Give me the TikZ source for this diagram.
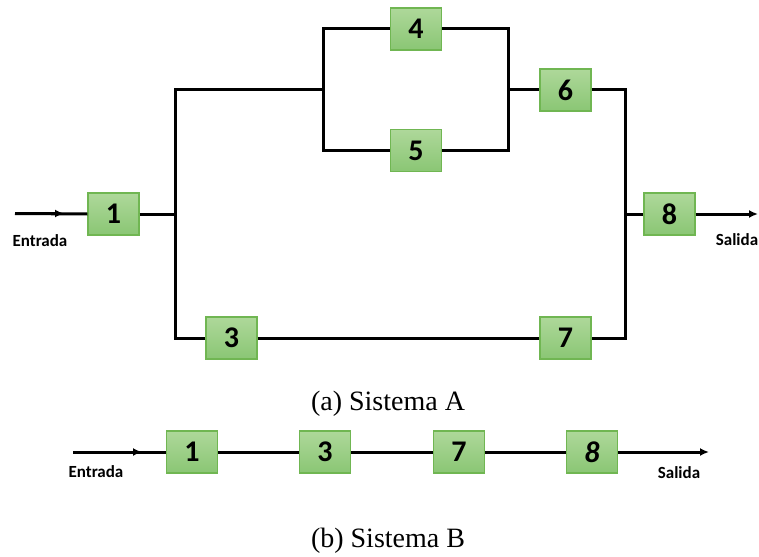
\documentclass[tikz,border=0pt]{standalone}
\usepackage{fontspec}
\setmainfont{Liberation Serif}
\newfontfamily\calfont{Carlito}
\usetikzlibrary{arrows.meta}
\definecolor{boxtop}{RGB}{174,216,154}
\definecolor{boxbot}{RGB}{138,198,116}
\definecolor{boxedge}{RGB}{112,182,82}
\begin{document}
\begin{tikzpicture}[x=1pt,y=-1pt,
  blk/.style={draw=boxedge, line width=1.3pt, top color=boxtop, bottom color=boxbot,
    minimum width=51pt, minimum height=42pt, inner sep=0pt,
    font=\calfont\bfseries\fontsize{30}{32}\selectfont},
  wire/.style={line width=3pt, line join=miter},
  tip/.style={-{Latex[length=9pt,width=8pt]}},
  io/.style={font=\calfont\bfseries\fontsize{17}{19}\selectfont},
  caption/.style={font=\fontsize{28}{33}\selectfont}]
\useasboundingbox (0,0) rectangle (759,556);

% ---- Sistema A ----
\node[blk] (a1) at (113.5,214) {1};
\node[blk] (a4) at (416,29) {4};
\node[blk] (a5) at (416,150.5) {5};
\node[blk] (a6) at (565.5,90) {6};
\node[blk] (a8) at (669.5,214) {8};
\node[blk] (a3) at (231.5,338) {3};
\node[blk] (a7) at (565.5,338) {7};

\coordinate (ain) at (15,213.5);
\coordinate (amid) at (64,213.5);
\coordinate (s1) at (175,214);
\coordinate (jtop) at (175,90);
\coordinate (p45) at (323,90);
\coordinate (q45) at (508,90);
\coordinate (r67) at (625,214);
\coordinate (aout) at (758,214);

% input line with its arrowhead half way
\draw[wire] (ain) -- (a1.west);
\draw[wire,tip] (ain) -- (amid);
\draw[wire] (a1.east) -- (s1);
\draw[wire] (a3.west) -| (jtop) -- (p45);
\draw[wire] (a4.west) -| (p45) |- (a5.west);
\draw[wire] (a4.east) -| (q45) |- (a5.east);
\draw[wire] (q45) -- (a6.west);
\draw[wire] (a6.east) -| (r67) |- (a7.east);
\draw[wire] (a3.east) -- (a7.west);
\draw[wire] (r67) -- (a8.west);
\draw[wire,tip] (a8.east) -- (aout);

\node[io] (aent) at (40,241) {Entrada};
\node[io] (asal) at (737,240) {Salida};
\node[caption] (capa) at (388,404) {(a) Sistema A};

% ---- Sistema B ----
\node[blk] (b1) at (192,452) {1};
\node[blk] (b3) at (325,452) {3};
\node[blk] (b7) at (459,452) {7};
\node[blk] (b8) at (592,452) {\itshape 8};

\coordinate (bin) at (73,452);
\coordinate (bmid) at (142,452);
\coordinate (bout) at (709,452);

\draw[wire] (bin) -- (b1.west);
\draw[wire,tip] (bin) -- (bmid);
\draw[wire] (b1.east) -- (b3.west);
\draw[wire] (b3.east) -- (b7.west);
\draw[wire] (b7.east) -- (b8.west);
\draw[wire,tip] (b8.east) -- (bout);

\node[io] (bent) at (96,472) {Entrada};
\node[io] (bsal) at (679,473) {Salida};
\node[caption] (capb) at (388,541) {(b) Sistema B};
\end{tikzpicture}
\end{document}
